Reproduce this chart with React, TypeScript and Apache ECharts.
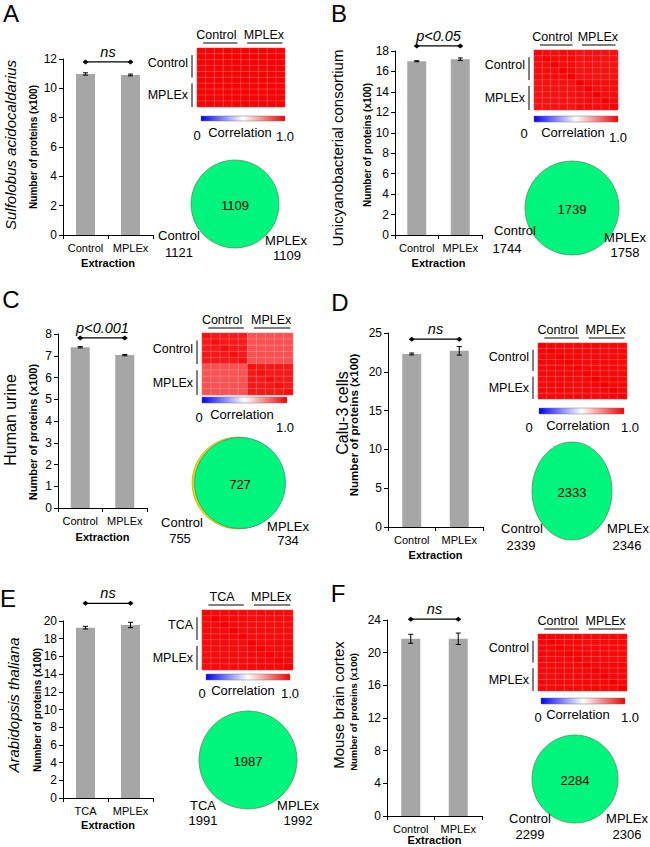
import React, { useEffect, useRef } from 'react';
import * as echarts from 'echarts';

// ---------------- DATA ----------------
const panelLetters = ['A', 'B', 'C', 'D', 'E', 'F'];
const speciesNames = [
  'Sulfolobus acidocaldarius',
  'Unicyanobacterial consortium',
  'Human urine',
  'Calu-3 cells',
  'Arabidopsis thaliana',
  'Mouse brain cortex',
];
const speciesItalic = [true, false, false, false, true, false];
const categoriesControl = ['Control', 'MPLEx'];
const categoriesTCA = ['TCA', 'MPLEx'];
const panelCategories = [
  categoriesControl,
  categoriesControl,
  categoriesControl,
  categoriesControl,
  categoriesTCA,
  categoriesControl,
];
const yAxisTitle = 'Number of proteins (x100)';
const xAxisTitle = 'Extraction';

// mean number of proteins (x100) per extraction
const barMeans = [
  [10.98, 10.91],
  [17.0, 17.2],
  [7.39, 7.03],
  [22.3, 22.7],
  [19.25, 19.55],
  [21.7, 21.7],
];
// error (± value)
const barErrors = [
  [0.08, 0.06],
  [0.05, 0.12],
  [0.03, 0.03],
  [0.12, 0.55],
  [0.15, 0.3],
  [0.55, 0.7],
];
const yMax = [12, 18, 8, 25, 20, 24];
const yInterval = [2, 2, 1, 5, 2, 4];

const sigLabels = ['ns', 'p<0.05', 'p<0.001', 'ns', 'ns', 'ns'];
const sigLevels = [11.8, 18.5, 7.82, 24.2, 22.0, 24.1];

// Venn counts
const vennShared = [1109, 1739, 727, 2333, 1987, 2284];
const vennFirst = [1121, 1744, 755, 2339, 1991, 2299];
const vennSecond = [1109, 1758, 734, 2346, 1992, 2306];

// correlation heatmap block values (10 samples: 5 + 5)
const heatSamples = ['1', '2', '3', '4', '5', '6', '7', '8', '9', '10'];
const corrDiagonal = [0.99, 1.0, 0.97, 1.0, 1.0, 1.0];
const corrWithinFirst = [0.99, 0.975, 0.95, 0.985, 0.98, 0.985];
const corrWithinSecond = [0.99, 0.975, 0.95, 0.985, 0.98, 0.985];
const corrBetween = [0.99, 0.965, 0.84, 0.98, 0.975, 0.98];
const colorbarTitle = 'Correlation';
const colorbarMin = '0';
const colorbarMax = '1.0';

// ---------------- LAYOUT ----------------
const FONT = '"Liberation Sans", Arial, Helvetica, sans-serif';
const RED = '#f40000';

const layout = [
  { letter: [11, 13], bar: { left: 63, top: 59, width: 90, height: 176 }, species: [10, 145], speciesSize: 15, yname: [33, 147], ynameSize: 10, xnameGap: 28,
    heat: { x: 197, y: 48, w: 88, h: 59 }, cb: { x: 201, y: 116, w: 84, h: 5 }, cb0: [197, 135], cbT: [240, 132], cb1: [285, 136],
    venn: { cx: 235, cy: 204, rx: 44, ry: 44 }, v1: [179, 235], v1n: [179, 252], v2: [286, 240], v2n: [287, 255] },
  { letter: [339, 13], bar: { left: 395, top: 51, width: 87, height: 184 }, species: [337, 148], speciesSize: 15, yname: [367, 145], ynameSize: 10, xnameGap: 28,
    heat: { x: 534, y: 50, w: 84, h: 60 }, cb: { x: 534, y: 116, w: 84, h: 6 }, cb0: [524, 133], cbT: [573, 132], cb1: [618, 137],
    venn: { cx: 572, cy: 208, rx: 47, ry: 47 }, v1: [515, 230], v1n: [507, 248], v2: [625, 237], v2n: [625, 252] },
  { letter: [11, 299], bar: { left: 58, top: 334, width: 89, height: 174 }, species: [10, 420], speciesSize: 16, yname: [33, 432], ynameSize: 11, xnameGap: 29,
    heat: { x: 202, y: 333, w: 91, h: 62 }, cb: { x: 202, y: 397, w: 85, h: 6 }, cb0: [199, 417], cbT: [242, 414], cb1: [285, 427],
    venn: { cx: 240, cy: 483, rx: 46, ry: 46 }, v1: [182, 522], v1n: [180, 538], v2: [288, 526], v2n: [288, 540] },
  { letter: [340, 302], bar: { left: 388, top: 333, width: 95, height: 194 }, species: [342, 413], speciesSize: 16, yname: [354, 425], ynameSize: 11.5, xnameGap: 28,
    heat: { x: 538, y: 343, w: 89, h: 56 }, cb: { x: 539, y: 408, w: 85, h: 6 }, cb0: [529, 427], cbT: [578, 425], cb1: [630, 427],
    venn: { cx: 572, cy: 491, rx: 40, ry: 49 }, v1: [522, 528], v1n: [521, 545], v2: [628, 528], v2n: [627, 545] },
  { letter: [8, 598], bar: { left: 63, top: 621, width: 90, height: 177 }, species: [13, 705], speciesSize: 15, yname: [37, 710], ynameSize: 10, xnameGap: 27,
    heat: { x: 202, y: 610, w: 91, h: 60 }, cb: { x: 206, y: 674, w: 84, h: 6 }, cb0: [202, 693], cbT: [243, 690], cb1: [290, 693],
    venn: { cx: 248, cy: 760, rx: 49, ry: 49 }, v1: [203, 805], v1n: [203, 820], v2: [298, 805], v2n: [298, 820] },
  { letter: [338, 593], bar: { left: 387, top: 620, width: 95, height: 196 }, species: [338, 705], speciesSize: 15, yname: [353, 712], ynameSize: 9.5, xnameGap: 24,
    heat: { x: 538, y: 634, w: 89, h: 57 }, cb: { x: 541, y: 698, w: 84, h: 6 }, cb0: [538, 717], cbT: [578, 714], cb1: [630, 717],
    venn: { cx: 575, cy: 779, rx: 43, ry: 44 }, v1: [530, 818], v1n: [530, 834], v2: [627, 818], v2n: [627, 834] },
];

function buildMatrix(i: number) {
  const data: number[][] = [];
  const n = heatSamples.length;
  const half = n / 2;
  for (let r = 0; r < n; r++) {
    for (let c = 0; c < n; c++) {
      let v;
      if (r === c) v = corrDiagonal[i];
      else if (r < half && c < half) v = corrWithinFirst[i];
      else if (r >= half && c >= half) v = corrWithinSecond[i];
      else v = corrBetween[i];
      data.push([c, r, v]);
    }
  }
  return data;
}

function errorRenderItem(params: any, api: any) {
  const x = api.value(0);
  const p1 = api.coord([x, api.value(1)]);
  const p2 = api.coord([x, api.value(2)]);
  const cap = 2.5;
  const st = { stroke: '#000', lineWidth: 1 };
  return {
    type: 'group',
    children: [
      { type: 'line', shape: { x1: p1[0], y1: p1[1], x2: p2[0], y2: p2[1] }, style: st },
      { type: 'line', shape: { x1: p1[0] - cap, y1: p1[1], x2: p1[0] + cap, y2: p1[1] }, style: st },
      { type: 'line', shape: { x1: p2[0] - cap, y1: p2[1], x2: p2[0] + cap, y2: p2[1] }, style: st },
    ],
  };
}

function buildOption() {
  const grid: any[] = [];
  const xAxis: any[] = [];
  const yAxis: any[] = [];
  const series: any[] = [];
  const heatIdx: number[] = [];
  layout.forEach((L, i) => {
    grid.push({ left: L.bar.left, top: L.bar.top, width: L.bar.width, height: L.bar.height });
    grid.push({ left: L.heat.x, top: L.heat.y, width: L.heat.w, height: L.heat.h });
    xAxis.push({
      type: 'category', gridIndex: 2 * i, data: panelCategories[i],
      axisLine: { show: true, lineStyle: { color: '#000', width: 1 } },
      axisTick: { show: true, length: 4, lineStyle: { color: '#000' } },
      axisLabel: { fontSize: 11, color: '#000', margin: 7, fontFamily: FONT, interval: 0 },
      splitLine: { show: false },
    });
    xAxis.push({ type: 'category', gridIndex: 2 * i + 1, data: heatSamples, show: false });
    yAxis.push({
      type: 'value', gridIndex: 2 * i, min: 0, max: yMax[i], interval: yInterval[i],
      axisLine: { show: true, lineStyle: { color: '#000', width: 1 } },
      axisTick: { show: true, length: 4, lineStyle: { color: '#000' } },
      axisLabel: { fontSize: 12, color: '#000', margin: 6, fontFamily: FONT },
      splitLine: { show: false },
    });
    yAxis.push({ type: 'category', gridIndex: 2 * i + 1, data: heatSamples, show: false, inverse: true });
    series.push({
      type: 'bar', xAxisIndex: 2 * i, yAxisIndex: 2 * i, data: barMeans[i], barWidth: 19,
      itemStyle: { color: '#a6a6a6' }, silent: true,
    });
    series.push({
      type: 'custom', xAxisIndex: 2 * i, yAxisIndex: 2 * i,
      data: barMeans[i].map((m, k) => [k, m - barErrors[i][k], m + barErrors[i][k]]),
      renderItem: errorRenderItem, encode: { x: 0, y: [1, 2] }, z: 5, silent: true,
    });
    heatIdx.push(series.length);
    series.push({
      type: 'heatmap', xAxisIndex: 2 * i + 1, yAxisIndex: 2 * i + 1, data: buildMatrix(i),
      itemStyle: { borderColor: 'rgba(255,255,255,0.3)', borderWidth: 0.6 },
      silent: true, emphasis: { disabled: true },
    });
  });
  return {
    animation: false,
    textStyle: { fontFamily: FONT },
    grid, xAxis, yAxis, series,
    visualMap: [{
      type: 'continuous', min: 0, max: 1, show: false, seriesIndex: heatIdx,
      inRange: { color: ['#0000ff', '#ffffff', RED] },
    }],
  };
}

function txt(x: number, y: number, text: string, size: number, extra: any = {}) {
  const { rotation, ...st } = extra;
  const el: any = {
    type: 'text', x, y, silent: true,
    style: {
      text, fontSize: size, fontFamily: FONT, fill: '#000',
      align: 'center', verticalAlign: 'middle', textAlign: 'center', textVerticalAlign: 'middle',
      ...st,
    },
  };
  if (rotation) el.rotation = rotation;
  return el;
}
function ln(x1: number, y1: number, x2: number, y2: number, w = 1) {
  return { type: 'line', silent: true, shape: { x1, y1, x2, y2 }, style: { stroke: '#000', lineWidth: w } };
}
function diamond(x: number, y: number) {
  return { type: 'polygon', silent: true, shape: { points: [[x - 3, y], [x, y - 2.5], [x + 3, y], [x, y + 2.5]] }, style: { fill: '#000' } };
}

function buildGraphics(chart: any) {
  const els: any[] = [];
  layout.forEach((L, i) => {
    const cats = panelCategories[i];
    els.push(txt(L.letter[0], L.letter[1], panelLetters[i], 24));
    els.push(txt(L.species[0], L.species[1], speciesNames[i], L.speciesSize, {
      rotation: Math.PI / 2, fontStyle: speciesItalic[i] ? 'italic' : 'normal',
    }));
    els.push(txt(L.yname[0], L.yname[1], yAxisTitle, L.ynameSize, { rotation: Math.PI / 2, fontWeight: 'bold' }));
    els.push(txt(L.bar.left + L.bar.width / 2, L.bar.top + L.bar.height + L.xnameGap, xAxisTitle, 11, { fontWeight: 'bold' }));
    // significance bracket
    const p0 = chart.convertToPixel({ gridIndex: 2 * i }, [0, sigLevels[i]]);
    const p1 = chart.convertToPixel({ gridIndex: 2 * i }, [1, sigLevels[i]]);
    els.push(ln(p0[0], p0[1], p1[0], p1[1], 1.2));
    els.push(diamond(p0[0], p0[1]));
    els.push(diamond(p1[0], p1[1]));
    els.push(txt((p0[0] + p1[0]) / 2, p0[1] - 10, sigLabels[i], 14.5, { fontStyle: 'italic' }));
    // heatmap group labels
    const H = L.heat;
    const cy = H.y - 13;
    els.push(txt(H.x + 0.22 * H.w, cy, cats[0], 12.5));
    els.push(txt(H.x + 0.76 * H.w, cy, cats[1], 12.5));
    els.push(ln(H.x + 0.07 * H.w, H.y - 5, H.x + 0.46 * H.w, H.y - 5));
    els.push(ln(H.x + 0.57 * H.w, H.y - 5, H.x + 0.97 * H.w, H.y - 5));
    els.push(txt(H.x - 9, H.y + 0.25 * H.h, cats[0], 12.5, { align: 'right', textAlign: 'right' }));
    els.push(txt(H.x - 9, H.y + 0.8 * H.h, cats[1], 12.5, { align: 'right', textAlign: 'right' }));
    els.push(ln(H.x - 5, H.y + 0.12 * H.h, H.x - 5, H.y + 0.5 * H.h));
    els.push(ln(H.x - 5, H.y + 0.6 * H.h, H.x - 5, H.y + H.h));
    // colorbar
    const C = L.cb;
    els.push({
      type: 'rect', silent: true, shape: { x: C.x, y: C.y, width: C.w, height: C.h },
      style: {
        fill: new echarts.graphic.LinearGradient(0, 0, 1, 0, [
          { offset: 0, color: '#0000ff' },
          { offset: 0.5, color: '#ffffff' },
          { offset: 1, color: RED },
        ]),
        stroke: '#777', lineWidth: 0.5,
      },
    });
    els.push(txt(L.cb0[0], L.cb0[1], colorbarMin, 13));
    els.push(txt(L.cbT[0], L.cbT[1], colorbarTitle, 13));
    els.push(txt(L.cb1[0], L.cb1[1], colorbarMax, 13));
    // venn
    const V = L.venn;
    if (i === 2) {
      els.push({ type: 'circle', silent: true, shape: { cx: V.cx - 2, cy: V.cy, r: V.rx }, style: { fill: '#e0dc00', stroke: '#b0a000', lineWidth: 0.6 } });
      els.push({ type: 'circle', silent: true, shape: { cx: V.cx, cy: V.cy, r: V.rx - 0.5 }, style: { fill: '#00f57c', stroke: '#3f8d8a', lineWidth: 0.8 } });
    } else if (V.rx === V.ry) {
      els.push({ type: 'circle', silent: true, shape: { cx: V.cx, cy: V.cy, r: V.rx }, style: { fill: '#00f57c', stroke: '#5a7d5a', lineWidth: 0.7 } });
    } else {
      els.push({ type: 'ellipse', silent: true, shape: { cx: V.cx, cy: V.cy, rx: V.rx, ry: V.ry }, style: { fill: '#00f57c', stroke: '#5a7d5a', lineWidth: 0.7 } });
    }
    els.push(txt(V.cx, V.cy + 1, String(vennShared[i]), 13));
    els.push(txt(L.v1[0], L.v1[1], cats[0], 13));
    els.push(txt(L.v1n[0], L.v1n[1], String(vennFirst[i]), 13));
    els.push(txt(L.v2[0], L.v2[1], cats[1], 13));
    els.push(txt(L.v2n[0], L.v2n[1], String(vennSecond[i]), 13));
  });
  return els;
}

export default function App() {
  const ref = useRef<HTMLDivElement>(null);
  useEffect(() => {
    if (!ref.current) return;
    const chart = echarts.init(ref.current, null, { renderer: 'svg' });
    chart.setOption(buildOption() as any);
    chart.setOption({ graphic: { elements: buildGraphics(chart) } } as any);
    return () => chart.dispose();
  }, []);
  return (
    <div
      ref={ref}
      style={{ position: 'absolute', left: 0, top: 0, width: 650, height: 847, background: '#fff' }}
    />
  );
}
